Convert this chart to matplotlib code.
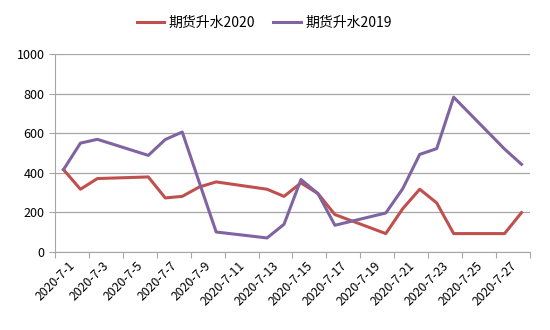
import matplotlib.pyplot as plt
import numpy as np

plt.rcParams['font.family'] = ['Noto Sans CJK SC', 'DejaVu Sans']

# trading days of July 2020 (day of month) and values
days = [1, 2, 3, 6, 7, 8, 9, 10, 13, 14, 15, 16, 17, 20, 21, 22, 23, 24, 27, 28]
premium_2020 = [416, 317, 371, 379, 273, 281, 328, 354, 317, 281, 349, 295, 189,
                93, 219, 317, 248, 93, 93, 199]
premium_2019 = [416, 550, 569, 488, 568, 606, 353, 101, 71, 140, 366, 295, 135,
                197, 320, 493, 522, 782, 520, 443]
tick_labels = ["2020-7-%d" % d for d in range(1, 28, 2)]

red = "#C0504D"
purple = "#8064A2"
grid_c = "#A6A6A6"

fig = plt.figure(figsize=(5.5, 3.3), dpi=100)
ax = fig.add_axes([55 / 550, 1 - 252 / 330, 475 / 550, 198 / 330])

x = np.array(days) - 1
ax.plot(x, premium_2020, color=red, lw=2.2, label="期货升水2020")
ax.plot(x, premium_2019, color=purple, lw=2.2, label="期货升水2019")

ax.set_xlim(-0.5, 27.5)
ax.set_ylim(0, 1000)
ax.set_yticks(range(0, 1001, 200))
ax.yaxis.grid(True, color=grid_c, lw=0.9)
ax.set_axisbelow(True)

ax.set_xticks(np.arange(-0.5, 28, 2))
ax.set_xticklabels([])
ax.set_xticks(np.arange(0, 27, 2) + 0.3, minor=True)
ax.set_xticklabels(tick_labels, minor=True, rotation=45, ha='right',
                   rotation_mode='anchor', fontsize=8.8)
ax.tick_params(axis='x', which='major', length=4, color=grid_c, direction='out')
ax.tick_params(axis='x', which='minor', length=0, pad=5)
ax.tick_params(axis='y', length=4, color=grid_c, labelsize=9, direction='out')

for s in ['top', 'right']:
    ax.spines[s].set_visible(False)
for s in ['left', 'bottom']:
    ax.spines[s].set_color(grid_c)

fig.legend(loc='center', bbox_to_anchor=(264 / 550, 1 - 23 / 330), ncol=2,
           frameon=False, fontsize=10, handlelength=2.0, handletextpad=0.3,
           columnspacing=1.3)

fig.savefig("out.png", dpi=100)
